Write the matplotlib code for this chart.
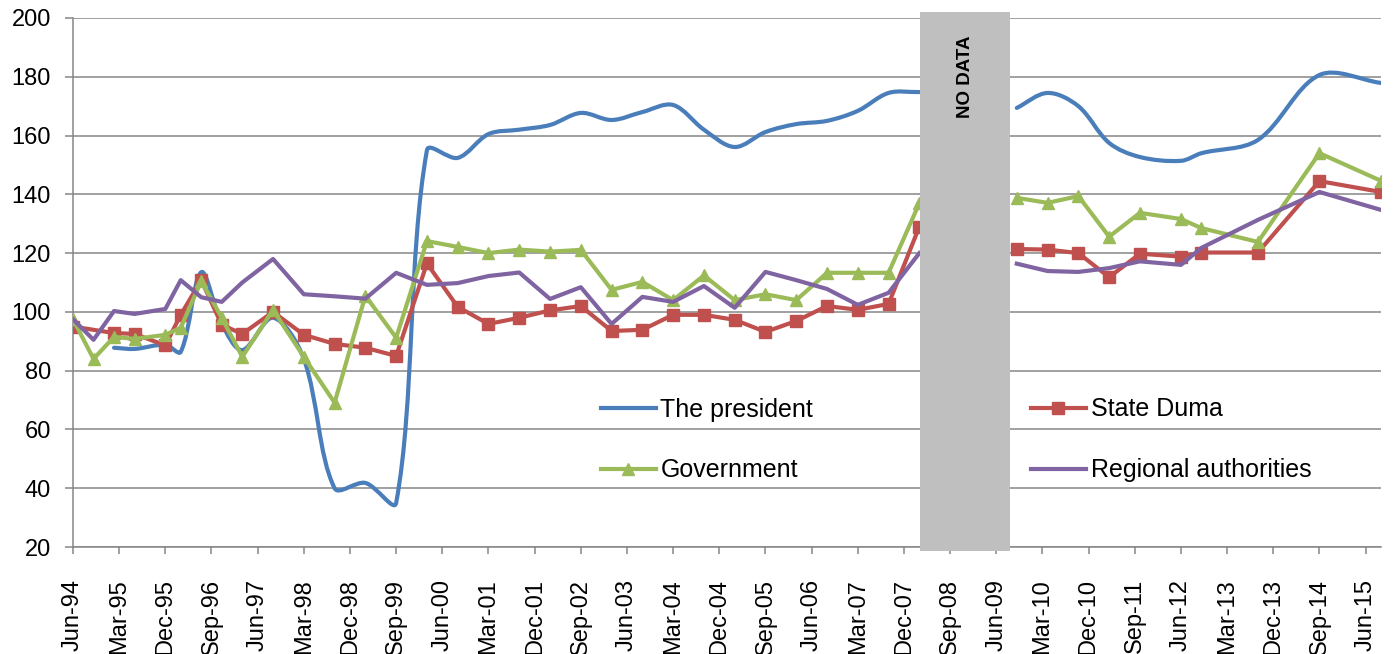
import math
import matplotlib
matplotlib.use('Agg')
import matplotlib.pyplot as plt
from matplotlib.path import Path
from matplotlib.patches import PathPatch, Rectangle
from matplotlib.lines import Line2D

plt.rcParams['font.family'] = ['Liberation Sans', 'DejaVu Sans']

# survey dates (year-month); the gap between 2008-03 and 2009-10 has no data
survey_dates = ['1994-06', '1994-10', '1995-02', '1995-06', '1995-12', '1996-03',
                '1996-07', '1996-11', '1997-03', '1997-09', '1998-03', '1998-09',
                '1999-03', '1999-09', '2000-03', '2000-09', '2001-03', '2001-09',
                '2002-03', '2002-09', '2003-03', '2003-09', '2004-03', '2004-09',
                '2005-03', '2005-09', '2006-03', '2006-09', '2007-03', '2007-09',
                '2008-03',
                '2009-10', '2010-04', '2010-10', '2011-04', '2011-10', '2012-06',
                '2012-10', '2013-09', '2014-09', '2015-09']

president = [None, None, 87.8, 87.4, 88.8, 86.4, 113.5, 96, 87, 98, 84, 40, 41.8, 35,
             155, 152.4, 160.5, 162, 163.6, 167.7, 165.3, 168, 170.4, 162, 156.1,
             161.2, 163.9, 165, 168.4, 174.5, 174.8,
             169.4, 174.5, 170, 157.5, 152.7, 151.4, 154, 158.5, 180.6, 177.9]

state_duma = [95, None, 92.8, 92.5, 88.6, 99, 110.8, 95.6, 92.5, 100, 92.2, 89.1, 87.8,
              85, 116.5, 101.7, 95.9, 98, 100.5, 102, 93.5, 93.9, 99, 99, 97.3, 93.2,
              96.9, 102, 100.7, 102.7, 129,
              121.4, 121.2, 120, 111.8, 119.8, 118.8, 120.2, 120.2, 144.5, 140.8]

government = [97.5, 84, 91.5, 90.8, 92.2, 94.6, 110.5, 98, 84.7, 100.7, 84.7, 69.1,
              105.5, 91.2, 124.1, 122.1, 120, 121.2, 120.5, 121.1, 107.5, 110.2, 104,
              112.4, 104, 106, 104, 113.3, 113.3, 113.3, 137,
              138.8, 137.1, 139.4, 125.6, 133.7, 131.6, 128.5, 123.8, 154, 144.6]

regional = [97.5, 90.5, 100.3, 99.3, 101, 110.8, 105, 103.4, 110, 118, 106, 105.3,
            104.5, 113.3, 109.2, 109.8, 112.2, 113.4, 104.4, 108.4, 95.9, 105.1, 103.4,
            108.8, 101.4, 113.6, 110.8, 107.8, 102.4, 106.5, 120,
            116.4, 113.9, 113.6, 114.9, 117.2, 116, 121.8, 131.3, 140.8, 134.7]

month_names = ['Jan', 'Feb', 'Mar', 'Apr', 'May', 'Jun',
               'Jul', 'Aug', 'Sep', 'Oct', 'Nov', 'Dec']

# rough screen scale (px per month, px per unit) used to weight the smoothing
SX, SY = 5.13, 2.94


def month_index(s):
    y, m = s.split('-')
    return (int(y) - 1994) * 12 + int(m) - 6


def dist(a, b):
    return math.hypot((b[0] - a[0]) * SX, (b[1] - a[1]) * SY)


def smooth_path(xs, ys, t=1 / 3):
    # Excel-like smoothed line: cardinal spline, tangents scaled by chord length
    pts = list(zip(xs, ys))
    n = len(pts)
    outs, ins = [], []
    for i in range(n):
        p_prev = pts[max(i - 1, 0)]
        p_next = pts[min(i + 1, n - 1)]
        tx, ty = p_next[0] - p_prev[0], p_next[1] - p_prev[1]
        d0 = dist(p_prev, pts[i])
        d1 = dist(pts[i], p_next)
        tot = d0 + d1 if d0 + d1 > 0 else 1
        outs.append((pts[i][0] + tx * t * d1 / tot, pts[i][1] + ty * t * d1 / tot))
        ins.append((pts[i][0] - tx * t * d0 / tot, pts[i][1] - ty * t * d0 / tot))
    verts = [pts[0]]
    codes = [Path.MOVETO]
    for i in range(n - 1):
        verts += [outs[i], ins[i + 1], pts[i + 1]]
        codes += [Path.CURVE4] * 3
    return Path(verts, codes)


x_all = [month_index(d) for d in survey_dates]
split = survey_dates.index('2009-10')
segments = [(0, split), (split, len(survey_dates))]

fig = plt.figure(figsize=(13.94, 6.54), dpi=100)
ax = fig.add_axes([73 / 1394, 1 - 547 / 654, 1308 / 1394, 529 / 654])

blue = '#4A7EBB'
red = '#C0504D'
green = '#9BBB59'
purple = '#8064A2'

for lo, hi in segments:
    pts = [(x_all[i], president[i]) for i in range(lo, hi) if president[i] is not None]
    path = smooth_path([p[0] for p in pts], [p[1] for p in pts])
    ax.add_patch(PathPatch(path, fill=False, edgecolor=blue, lw=3, zorder=3,
                           capstyle='round'))

series = [(state_duma, red, 's', 8.5), (government, green, '^', 9),
          (regional, purple, None, 0)]
for values, color, marker, ms in series:
    for lo, hi in segments:
        pts = [(x_all[i], values[i]) for i in range(lo, hi) if values[i] is not None]
        ax.plot([p[0] for p in pts], [p[1] for p in pts], color=color, lw=3,
                marker=marker, markersize=ms, zorder=3)

# "no data" band
ax.add_patch(Rectangle((165.1, 18.6), 17.6, 183.5, facecolor='#BFBFBF',
                       edgecolor='none', clip_on=False, zorder=5))
ax.text(173.9, 180.0, 'NO DATA', rotation=90, ha='center', va='center',
        fontsize=13.5, fontweight='bold', color='black', zorder=6)

ax.set_xlim(0, 255)
ax.set_ylim(20, 200)
ax.set_yticks(range(20, 201, 20))

ticks = list(range(0, 253, 9))
labels = []
for t in ticks:
    m = 5 + t
    labels.append(f'{month_names[m % 12]}-{(94 + m // 12) % 100:02d}')
ax.set_xticks(ticks)
ax.set_xticklabels(labels, rotation=90)

ax.yaxis.grid(True, color='#868686', lw=1.1)
ax.set_axisbelow(True)
for side in ['top', 'right']:
    ax.spines[side].set_visible(False)
for side in ['left', 'bottom']:
    ax.spines[side].set_color('#868686')
    ax.spines[side].set_linewidth(1.1)
ax.tick_params(axis='y', length=6, width=1.1, color='#868686', pad=10, labelsize=17)
ax.tick_params(axis='x', length=5, width=1.1, color='#868686', pad=18, labelsize=17)

handles = [Line2D([], [], color=blue, lw=3),
           Line2D([], [], color=green, lw=3, marker='^', markersize=9),
           Line2D([], [], color=red, lw=3, marker='s', markersize=8.5),
           Line2D([], [], color=purple, lw=3)]
names = ['The president', 'Government', 'State Duma', 'Regional authorities']
ax.legend(handles, names, ncol=2, frameon=False, loc='upper left',
          bbox_to_anchor=(588 / 1394, 1 - 385 / 654), bbox_transform=fig.transFigure,
          fontsize=18, borderpad=0, handlelength=2.2, handletextpad=0.2,
          columnspacing=8.7, labelspacing=1.47)

fig.savefig('out.png', dpi=100)
